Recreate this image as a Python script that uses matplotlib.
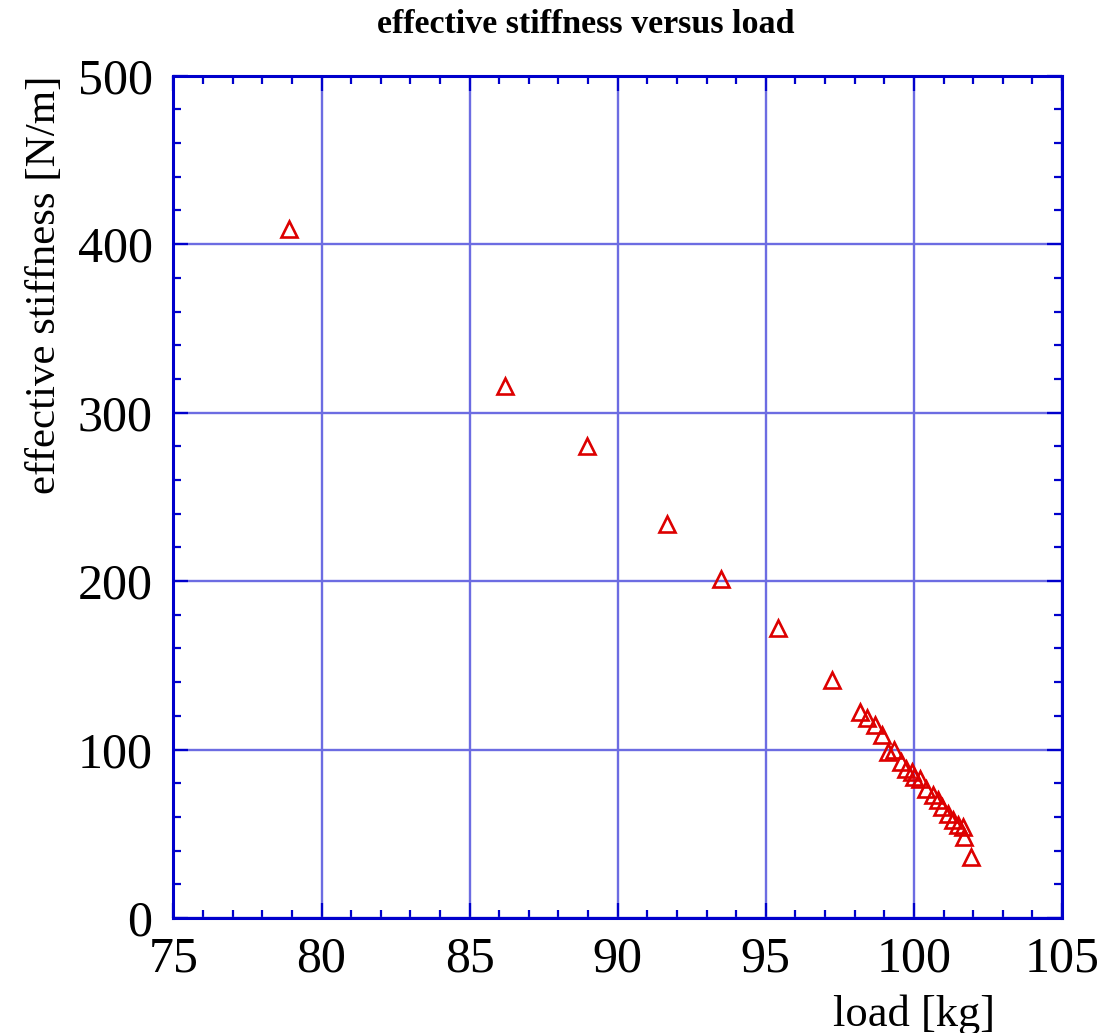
import matplotlib
matplotlib.use("Agg")
import matplotlib.pyplot as plt
from matplotlib.ticker import MultipleLocator

load_kg = [78.89, 86.20, 88.96, 91.68, 93.50, 95.42, 97.24,
           98.17, 98.42, 98.68, 98.92, 99.12, 99.33, 99.55, 99.74, 99.94,
           100.02, 100.19, 100.41, 100.64, 100.81, 100.94, 101.14, 101.31,
           101.48, 101.65, 101.70, 101.93]
stiffness = [409, 316, 280, 234, 201, 172, 141,
             122.3, 118.9, 114.4, 108.4, 98.5, 99.9, 92.6, 88.6, 86.6,
             83.7, 82.7, 76.7, 72.8, 69.8, 65.9, 61.9, 58.0,
             55.0, 54.0, 48.1, 36.2]
x_ticks = [75, 80, 85, 90, 95, 100, 105]
y_ticks = [0, 100, 200, 300, 400, 500]

plt.rcParams['font.family'] = ['Liberation Serif', 'DejaVu Serif']

fig = plt.figure(figsize=(11.02, 10.33), dpi=100)
ax = fig.add_axes([0.1574, 0.1113, 0.8063, 0.8154])

frame_c = '#0000cc'
grid_c = '#6c6ce2'

ax.plot(load_kg, stiffness, linestyle='none', marker='^', markersize=12,
        markerfacecolor='none', markeredgecolor='#dd0000', markeredgewidth=1.9,
        zorder=5)

ax.set_xlim(75, 105)
ax.set_ylim(0, 500)
ax.set_xticks(x_ticks)
ax.set_yticks(y_ticks)
ax.xaxis.set_minor_locator(MultipleLocator(1))
ax.yaxis.set_minor_locator(MultipleLocator(20))

ax.grid(True, which='major', color=grid_c, linewidth=1.7, zorder=1)
for s in ax.spines.values():
    s.set_color(frame_c)
    s.set_linewidth(2.2)

ax.tick_params(which='both', direction='in', top=True, right=True,
               color=frame_c, width=1.6, labelsize=36, labelcolor='black')
ax.tick_params(which='major', length=11)
ax.tick_params(axis='x', which='major', pad=13)
ax.tick_params(axis='y', which='major', pad=15)
ax.tick_params(which='minor', length=6)

fig.text(0.5315, 0.976, 'effective stiffness versus load', ha='center', va='center',
         fontsize=24.5, fontweight='bold')
fig.text(0.041, 1 - 75/1033, 'effective stiffness [N/m]', rotation=90,
         ha='center', va='top', fontsize=31)
fig.text(995/1102, 1 - 1026/1033, 'load [kg]', ha='right', va='baseline', fontsize=32)

fig.savefig('out.png', dpi=100)
